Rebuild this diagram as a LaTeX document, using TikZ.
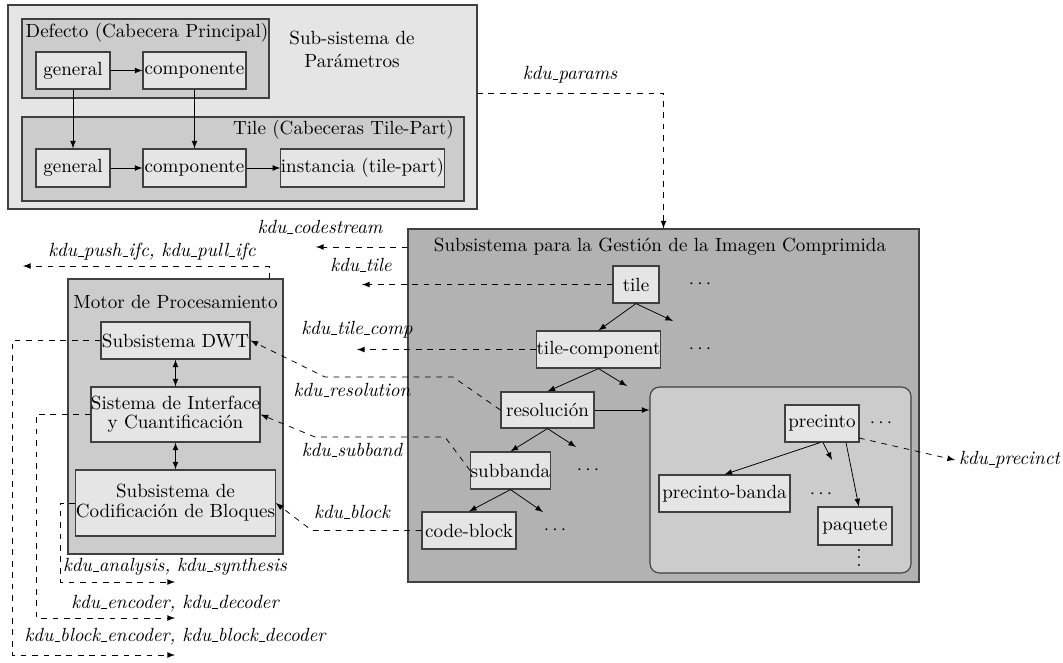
\documentclass[tikz,border=0pt]{standalone}
\usetikzlibrary{arrows,calc}
% short low rule used as the underscore in class names
\newcommand\usc{\leavevmode\kern.06em\vbox{\hrule width.3em}}
\tikzset{
  sz/.style 2 args={minimum width=#1*0.5247pt, minimum height=#2*0.5247pt},
  outer/.style={draw=black!75, semithick, inner sep=0pt},
  item/.style={draw=black!75, fill=black!10, semithick, inner sep=0pt},
  ttl/.style={inner sep=0pt},
  arr/.style={-latex, thin},
  dsh/.style={dashed, -latex, thin},
  lbl/.style={font=\itshape, inner sep=0pt},
}
\begin{document}
\begin{tikzpicture}[x=0.5247pt, y=-0.5247pt]
\useasboundingbox (0,0) rectangle (1063,662);

% --- parameter sub-system
\node[outer, fill=black!10, sz={469}{204}] (par) at (242.5,107) {};
\node[outer, fill=black!20, sz={247}{79}] (def) at (145.5,58.5) {};
\node[outer, fill=black!20, sz={442}{84}] (tph) at (243,159) {};
\node[ttl] (deft) at (147,33) {Defecto (Cabecera Principal)};
\node[ttl] (tpht) at (343.5,130) {Tile (Cabeceras Tile-Part)};
\node[ttl, align=center] (part) at (352,49) {Sub-sistema de\\Parámetros};
\node[item, sz={74}{37}] (g1) at (73,70.5) {general};
\node[item, sz={103}{37}] (c1) at (194.5,70.5) {componente};
\node[item, sz={74}{38}] (g2) at (73,168) {general};
\node[item, sz={103}{38}] (c2) at (194.5,168) {componente};
\node[item, sz={159}{38}] (inst) at (362.5,168) {instancia (tile-part)};
\draw[arr] (g1) -- (c1);
\draw[arr] (g1) -- (g2);
\draw[arr] (c1) -- (c2);
\draw[arr] (g2) -- (c2);
\draw[arr] (c2) -- (inst);

% --- compressed image management
\node[outer, fill=black!30, sz={511}{353}] (cmp) at (663.5,405.5) {};
\node[ttl] (cmpt) at (660,247) {Subsistema para la Gestión de la Imagen Comprimida};
\node[outer, fill=black!20, rounded corners=5pt, sz={261}{186}] (rnd) at (780.5,480) {};
\node[item, sz={46}{37}] (tile) at (636,284.5) {tile};
\node[ttl] (d1) at (700,284) {$\cdots$};
\node[item, sz={121}{37}] (tcomp) at (598.5,349.5) {tile-component};
\node[ttl] (d2) at (700,349) {$\cdots$};
\node[item, sz={93}{36}] (res) at (547.5,410) {resolución};
\node[item, sz={75}{37}] (sub) at (510.5,470.5) {subbanda};
\node[ttl] (d3) at (588,470) {$\cdots$};
\node[item, sz={94}{37}] (cb) at (469,530.5) {code-block};
\node[ttl] (d4) at (555,530) {$\cdots$};
\node[item, sz={74}{37}] (prec) at (822,423.5) {precinto};
\node[ttl] (d5) at (881,423) {$\cdots$};
\node[item, sz={131}{37}] (pb) at (724.5,493.5) {precinto-banda};
\node[ttl] (d6) at (821,494) {$\cdots$};
\node[item, sz={74}{38}] (paq) at (855,526) {paquete};
\node[ttl] (d7) at (859,552) {$\vdots$};

\coordinate (t1) at (673,321);
\coordinate (t2) at (627,386);
\coordinate (t3) at (576,447);
\coordinate (t4) at (543,512);
\coordinate (t5) at (832,460);
\draw[arr] (tile.south) -- (tcomp.north);
\draw[arr] (tile.south) -- (t1);
\draw[arr] (tcomp.south) -- (res.north);
\draw[arr] (tcomp.south) -- (t2);
\draw[arr] (res.south) -- (sub.north);
\draw[arr] (res.south) -- (t3);
\draw[arr] (sub.south) -- (cb.north);
\draw[arr] (sub.south) -- (t4);
\draw[arr] (res.east) -- (res.east -| rnd.west);
\draw[arr] ([xshift=-1pt]prec.south) -- (pb.north);
\draw[arr] ([xshift=0.5pt]prec.south) -- (t5);
\draw[arr] ([xshift=12.6pt]prec.south) -- ([xshift=2pt]paq.north);

% --- processing engine
\node[outer, fill=black!20, sz={215}{275}] (mot) at (175.5,416.5) {};
\node[ttl] (mott) at (175.5,302) {Motor de Procesamiento};
\node[item, sz={149}{37}] (dwt) at (175.5,340.5) {Subsistema DWT};
\node[item, sz={167}{55}, align=center] (siq) at (175.5,414.5) {Sistema de Interface\\[-1.8pt]y Cuantificación};
\node[item, sz={195}{66}, align=center] (cod) at (175.5,503) {Subsistema de\\[-1.5pt]Codificación de Bloques};
\draw[latex-latex, thin] (dwt) -- (siq);
\draw[latex-latex, thin] (siq) -- (cod);

% --- interface classes
\coordinate (pe) at (477,93);
\draw[dsh] (pe) -| (cmp.north);
\node[lbl] (lpar) at (570,75) {kdu\usc params};

\coordinate (cs) at (316,247);
\draw[dsh] (cmp.west |- cmpt) -- (cs);
\node[lbl] (lcs) at (320,227) {kdu\usc codestream};

\coordinate (mt) at (269,279);
\coordinate (pu) at (23,266);
\draw[dsh] (mt) |- (pu);
\node[lbl] (lpu) at (152,252) {kdu\usc push\usc ifc, kdu\usc pull\usc ifc};

\coordinate (te) at (362,284.5);
\draw[dsh] (tile.west) -- (te);
\node[lbl] (lti) at (361,265) {kdu\usc tile};

\coordinate (tce) at (357,349.5);
\draw[dsh] (tcomp.west) -- (tce);
\node[lbl] (ltc) at (357,330) {kdu\usc tile\usc comp};

\draw[dsh] (res.west) -- (453,377) -- (325,377) -- (dwt.east);
\node[lbl] (lres) at (352,390) {kdu\usc resolution};

\draw[dsh] (sub.west) -- (445,437) -- (315,437) -- (siq.east);
\node[lbl] (lsub) at (352,450) {kdu\usc subband};

\draw[dsh] (cb.west) -- (312,530.5) -- (cod.east);
\node[lbl] (lblk) at (352,512) {kdu\usc block};

\coordinate (e1) at (175,655);
\coordinate (e2) at (175,618);
\coordinate (e3) at (175,582);
\draw[dsh] (dwt.west) -- (12,340.5) |- (e1);
\draw[dsh] (siq.west) -- (36,414.5) |- (e2);
\draw[dsh] (cod.west) -- (60,503) |- (e3);
\node[lbl] (lbe) at (175,637) {kdu\usc block\usc encoder, kdu\usc block\usc decoder};
\node[lbl] (lenc) at (175,604) {kdu\usc encoder, kdu\usc decoder};
\node[lbl] (lana) at (175,567) {kdu\usc analysis, kdu\usc synthesis};

\coordinate (ps) at (859,438);
\node[lbl, anchor=west, inner sep=2pt] (lpr) at (955,460) {kdu\usc precinct};
\draw[dsh] (ps) -- (lpr.west);
\end{tikzpicture}
\end{document}
